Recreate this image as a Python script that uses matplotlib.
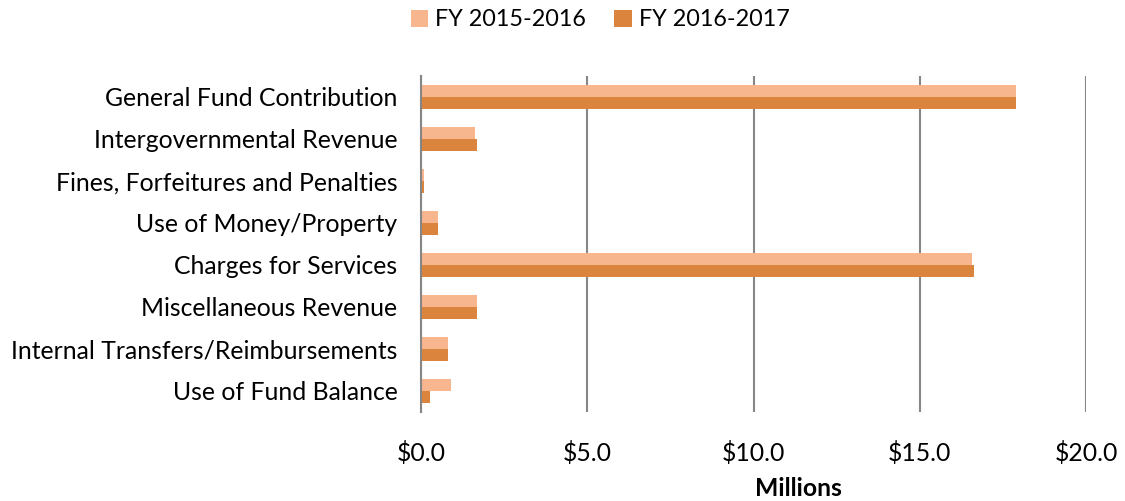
import matplotlib
matplotlib.use("Agg")
import matplotlib.pyplot as plt
import numpy as np

categories = ["General Fund Contribution", "Intergovernmental Revenue",
              "Fines, Forfeitures and Penalties", "Use of Money/Property",
              "Charges for Services", "Miscellaneous Revenue",
              "Internal Transfers/Reimbursements", "Use of Fund Balance"]
fy1516 = [17.9, 1.62, 0.09, 0.51, 16.57, 1.68, 0.81, 0.90]
fy1617 = [17.9, 1.68, 0.09, 0.51, 16.63, 1.68, 0.81, 0.27]
series_names = ["FY 2015-2016", "FY 2016-2017"]
xticks = [0, 5, 10, 15, 20]
xtick_labels = ["$0.0", "$5.0", "$10.0", "$15.0", "$20.0"]

plt.rcParams['font.family'] = ['Lato', 'DejaVu Sans']
fs = 17.8

fig = plt.figure(figsize=(11.25, 5.01), dpi=100)
ax = fig.add_axes([421/1125, 1-412/501, (1086-421)/1125, (412-76)/501])

y = np.arange(len(categories))
h = 0.286
c1, c2 = "#F8B68F", "#DB843D"
ax.barh(y - h/2, fy1516, height=h, color=c1, label=series_names[0], zorder=3)
ax.barh(y + h/2, fy1617, height=h, color=c2, label=series_names[1], zorder=3)

ax.set_ylim(len(categories) - 0.5, -0.5)
ax.set_xlim(0, 20)
ax.set_yticks(y)
ax.set_yticklabels(categories, fontsize=fs)
ax.set_xticks(xticks)
ax.set_xticklabels(xtick_labels, fontsize=fs)
ax.tick_params(axis='y', length=0, pad=17)
ax.tick_params(axis='x', length=0, pad=21)
ax.xaxis.grid(True, color="#868686", linewidth=1.5, zorder=0)
for s in ["top", "right", "bottom"]:
    ax.spines[s].set_visible(False)
ax.spines["left"].set_color("#868686")
ax.spines["left"].set_linewidth(1.5)
ax.spines["left"].set_zorder(4)
fig.text(798/1125, 1-488/501, "Millions", fontsize=fs, fontweight="bold",
         ha="center", va="center")

fig.legend(loc="center", bbox_to_anchor=(600/1125, 1-20/501), ncol=2, frameon=False,
           fontsize=16.8, handlelength=0.75, handleheight=0.75, columnspacing=1.2, handletextpad=0.3)

fig.savefig("out.png", dpi=100)
